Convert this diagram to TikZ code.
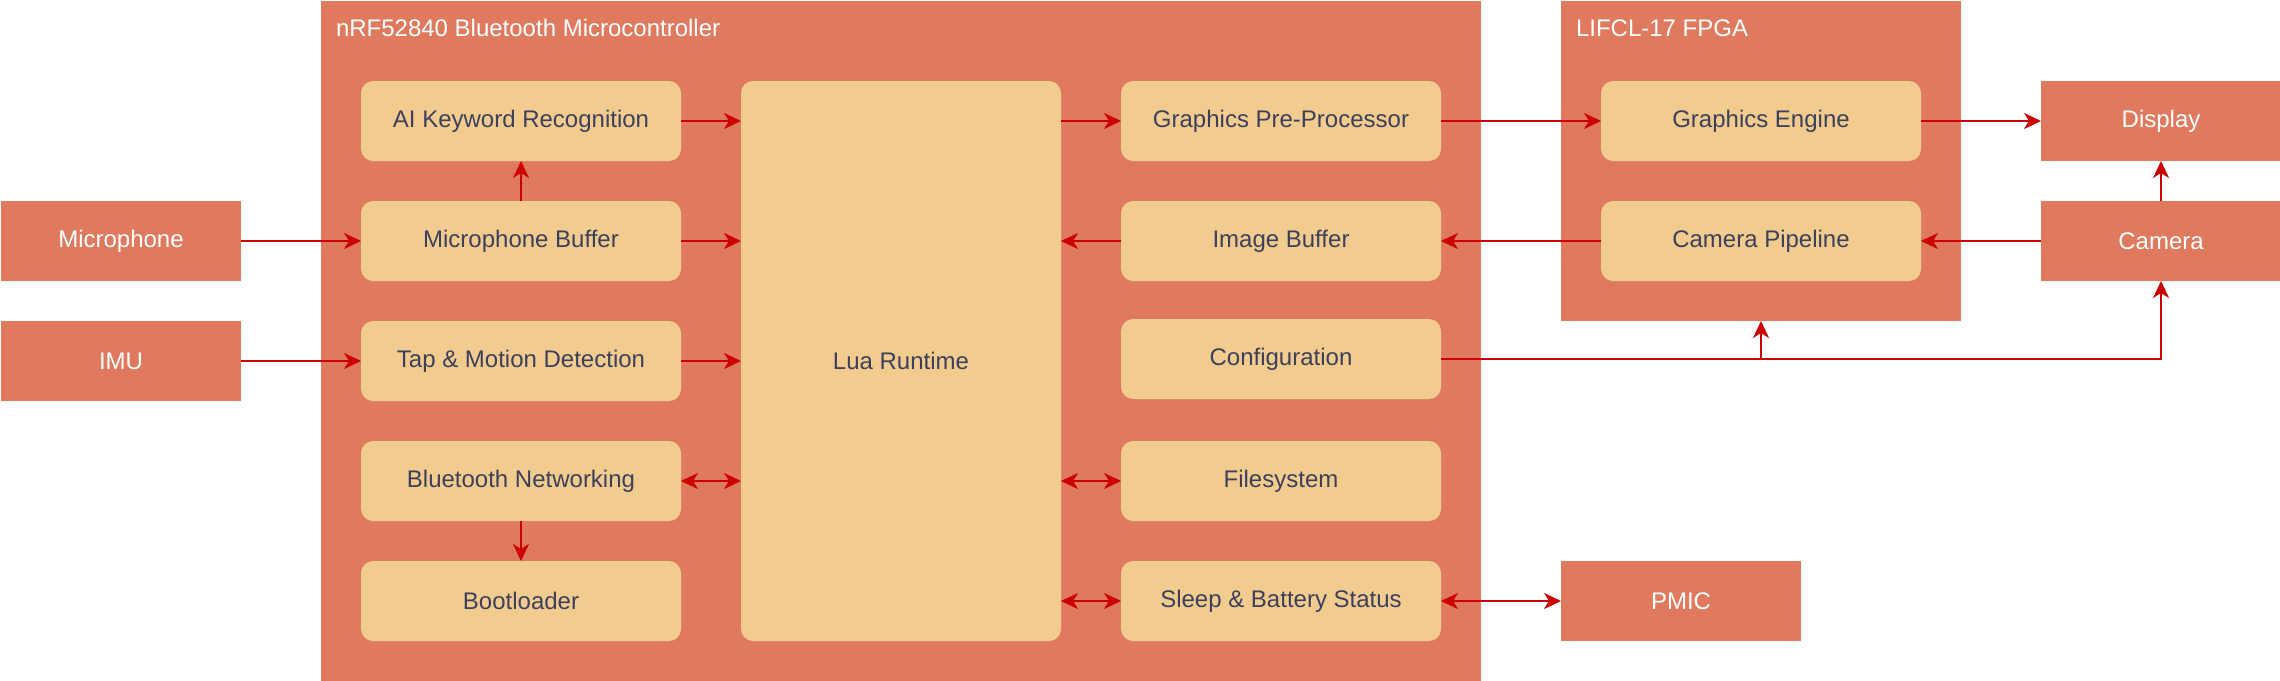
\documentclass[tikz,border=0pt]{standalone}
\usepackage{fontspec}
\setmainfont{Liberation Sans}
\usetikzlibrary{arrows.meta,calc}
\definecolor{outerc}{HTML}{E07A5F}
\definecolor{innerc}{HTML}{F2CC8F}
\definecolor{txtc}{HTML}{3D405B}
\definecolor{arrc}{HTML}{CC0000}
\begin{document}
\begin{tikzpicture}[x=1pt,y=-1pt,
  every node/.style={font=\fontsize{24}{28}\selectfont, inner sep=0pt, outer sep=0pt},
  ext/.style={fill=outerc, text=white, minimum width=240pt, minimum height=80pt},
  grp/.style={fill=outerc},
  inner/.style={fill=innerc, text=txtc, rounded corners=12pt, minimum width=320pt, minimum height=80pt},
  ttl/.style={text=white, anchor=west},
  conn/.style={draw=arrc, line width=2pt, -{Stealth[length=17pt,width=16pt,inset=5pt]}},
  bidir/.style={draw=arrc, line width=2pt, {Stealth[length=17pt,width=16pt,inset=5pt]}-{Stealth[length=17pt,width=16pt,inset=5pt]}},
  plain/.style={draw=arrc, line width=2pt}
]
\useasboundingbox (0,0) rectangle (2280,680);
% groups
\node[grp, minimum width=1160pt, minimum height=680pt] (nrf) at (901,341) {};
\node[ttl] (nrft) at (336,28) {nRF52840 Bluetooth Microcontroller};
\node[grp, minimum width=400pt, minimum height=320pt] (fpga) at (1761,161) {};
\node[ttl] (fpgat) at (1576,28) {LIFCL-17 FPGA};
% external
\node[ext] (mic) at (121,241) {Microphone};
\node[ext] (imu) at (121,361) {IMU};
\node[ext] (disp) at (2161,121) {Display};
\node[ext] (cam) at (2161,241) {Camera};
\node[ext] (pmic) at (1681,601) {PMIC};
% left column
\node[inner] (ai) at (521,121) {AI Keyword Recognition};
\node[inner] (mb) at (521,241) {Microphone Buffer};
\node[inner] (tap) at (521,361) {Tap \& Motion Detection};
\node[inner] (bt) at (521,481) {Bluetooth Networking};
\node[inner] (boot) at (521,601) {Bootloader};
% lua
\node[inner, minimum height=560pt] (lua) at (901,361) {Lua Runtime};
% right column
\node[inner] (gpp) at (1281,121) {Graphics Pre-Processor};
\node[inner] (img) at (1281,241) {Image Buffer};
\node[inner] (cfg) at (1281,359) {Configuration};
\node[inner] (fs) at (1281,481) {Filesystem};
\node[inner] (slp) at (1281,601) {Sleep \& Battery Status};
% fpga
\node[inner] (ge) at (1761,121) {Graphics Engine};
\node[inner] (cp) at (1761,241) {Camera Pipeline};
% connectors
\draw[conn] (mic) -- (mb);
\draw[conn] (imu) -- (tap);
\draw[conn] (mb) -- (ai);
\draw[conn] (ai.east) -- (ai.east -| lua.west);
\draw[conn] (mb.east) -- (mb.east -| lua.west);
\draw[conn] (tap.east) -- (tap.east -| lua.west);
\draw[bidir] (bt.east) -- (bt.east -| lua.west);
\draw[conn] (bt) -- (boot);
\draw[conn] (gpp.west -| lua.east) -- (gpp.west);
\draw[conn] (img.west) -- (img.west -| lua.east);
\draw[bidir] (fs.west -| lua.east) -- (fs.west);
\draw[bidir] (slp.west -| lua.east) -- (slp.west);
\draw[conn] (gpp) -- (ge);
\draw[conn] (cp) -- (img);
\draw[conn] (cam) -- (cp);
\draw[conn] (cam) -- (disp);
\draw[conn] (ge) -- (disp);
\draw[conn] (cfg.east) -- (cfg.east -| cam.south) -- (cam.south);
\coordinate (jn) at (fpga.south |- cfg.east);
\draw[conn] (jn) -- (fpga.south);
\draw[bidir] (slp) -- (pmic);
\end{tikzpicture}
\end{document}
